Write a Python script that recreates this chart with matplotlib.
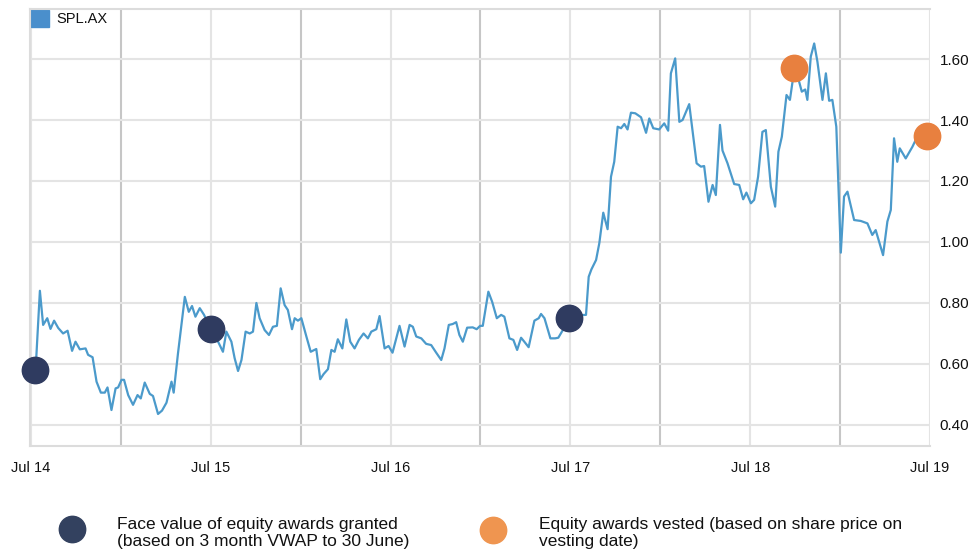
import matplotlib.pyplot as plt
from matplotlib.lines import Line2D
from matplotlib.patches import Rectangle

plt.rcParams['font.family'] = ['Liberation Sans', 'DejaVu Sans']

# years since Jul 2014, SPL.AX close price
years = [0.011, 0.028, 0.050, 0.068, 0.091, 0.109, 0.129, 0.152, 0.179, 0.204,
         0.229, 0.248, 0.272, 0.304, 0.318, 0.343, 0.365, 0.389, 0.411, 0.426,
         0.448, 0.471, 0.485, 0.504, 0.518, 0.541, 0.568, 0.593, 0.611, 0.633,
         0.661, 0.679, 0.707, 0.729, 0.754, 0.782, 0.794, 0.818, 0.856, 0.878,
         0.896, 0.915, 0.939, 0.963, 0.976, 1.000, 1.017, 1.041, 1.068, 1.087,
         1.115, 1.133, 1.152, 1.171, 1.194, 1.217, 1.235, 1.254, 1.272, 1.300,
         1.324, 1.346, 1.368, 1.389, 1.411, 1.429, 1.452, 1.467, 1.485, 1.504,
         1.532, 1.556, 1.587, 1.609, 1.628, 1.652, 1.671, 1.689, 1.707, 1.732,
         1.754, 1.776, 1.800, 1.824, 1.850, 1.874, 1.893, 1.921, 1.939, 1.967,
         1.989, 2.011, 2.050, 2.078, 2.106, 2.124, 2.143, 2.171, 2.198, 2.226,
         2.254, 2.282, 2.300, 2.324, 2.346, 2.365, 2.383, 2.402, 2.426, 2.457,
         2.479, 2.498, 2.513, 2.544, 2.565, 2.591, 2.615, 2.633, 2.661, 2.683,
         2.704, 2.726, 2.744, 2.768, 2.800, 2.824, 2.837, 2.856, 2.889, 2.915,
         2.933, 2.967, 2.994, 3.022, 3.050, 3.087, 3.102, 3.117, 3.143, 3.161,
         3.183, 3.207, 3.226, 3.244, 3.263, 3.282, 3.300, 3.318, 3.337, 3.361,
         3.393, 3.421, 3.439, 3.461, 3.494, 3.522, 3.544, 3.559, 3.583, 3.606,
         3.624, 3.661, 3.702, 3.726, 3.744, 3.768, 3.791, 3.809, 3.832, 3.846,
         3.874, 3.911, 3.939, 3.961, 3.979, 4.004, 4.022, 4.044, 4.068, 4.087,
         4.115, 4.139, 4.157, 4.176, 4.202, 4.221, 4.244, 4.272, 4.287, 4.306,
         4.318, 4.337, 4.356, 4.374, 4.402, 4.421, 4.439, 4.457, 4.479, 4.504,
         4.522, 4.541, 4.578, 4.615, 4.652, 4.679, 4.698, 4.739, 4.763, 4.782,
         4.800, 4.818, 4.832, 4.865, 4.902, 4.929, 4.967, 4.983]
price = [0.58, 0.60, 0.84, 0.728, 0.75, 0.715, 0.742, 0.718, 0.70, 0.709,
         0.643, 0.673, 0.648, 0.651, 0.63, 0.622, 0.542, 0.506, 0.506, 0.523,
         0.449, 0.52, 0.523, 0.548, 0.548, 0.498, 0.466, 0.498, 0.487, 0.539,
         0.502, 0.495, 0.436, 0.447, 0.473, 0.542, 0.506, 0.635, 0.82, 0.771,
         0.79, 0.755, 0.783, 0.761, 0.744, 0.71, 0.69, 0.673, 0.64, 0.706,
         0.673, 0.619, 0.577, 0.613, 0.706, 0.70, 0.706, 0.80, 0.75, 0.711,
         0.695, 0.722, 0.725, 0.848, 0.793, 0.777, 0.714, 0.75, 0.742, 0.75,
         0.69, 0.64, 0.649, 0.55, 0.567, 0.583, 0.646, 0.64, 0.681, 0.651,
         0.746, 0.673, 0.651, 0.679, 0.70, 0.684, 0.706, 0.714, 0.757, 0.651,
         0.659, 0.637, 0.725, 0.657, 0.728, 0.722, 0.69, 0.684, 0.666, 0.662,
         0.637, 0.613, 0.651, 0.728, 0.731, 0.737, 0.695, 0.673, 0.719, 0.72,
         0.714, 0.725, 0.725, 0.837, 0.804, 0.75, 0.761, 0.755, 0.684, 0.679,
         0.646, 0.686, 0.673, 0.655, 0.742, 0.75, 0.764, 0.75, 0.684, 0.684,
         0.686, 0.72, 0.74, 0.75, 0.76, 0.761, 0.886, 0.91, 0.941, 0.996,
         1.096, 1.042, 1.214, 1.263, 1.378, 1.373, 1.387, 1.369, 1.424, 1.422,
         1.409, 1.358, 1.405, 1.373, 1.369, 1.389, 1.365, 1.553, 1.602, 1.394,
         1.40, 1.452, 1.258, 1.247, 1.249, 1.132, 1.187, 1.154, 1.384, 1.30,
         1.258, 1.19, 1.187, 1.14, 1.162, 1.127, 1.138, 1.214, 1.361, 1.367,
         1.181, 1.116, 1.296, 1.345, 1.482, 1.466, 1.56, 1.526, 1.493, 1.50,
         1.466, 1.608, 1.651, 1.591, 1.466, 1.553, 1.463, 1.466, 1.378, 0.965,
         1.149, 1.165, 1.072, 1.069, 1.061, 1.023, 1.039, 0.957, 1.067, 1.105,
         1.34, 1.263, 1.307, 1.274, 1.312, 1.345, 1.35, 1.357]

granted_t = [0.022, 0.999, 2.994]
granted_v = [0.58, 0.715, 0.751]
vested_t = [4.244, 4.983]
vested_v = [1.57, 1.348]

xtick_labels = ['Jul 14', 'Jul 15', 'Jul 16', 'Jul 17', 'Jul 18', 'Jul 19']
yticks = [0.4, 0.6, 0.8, 1.0, 1.2, 1.4, 1.6]

line_col = '#4b9acb'
navy = '#2f3b60'
orange = '#e8803f'

fig = plt.figure(figsize=(9.72, 5.53), dpi=100)
ax = fig.add_axes([30 / 972, 1 - 446 / 553, 900 / 972, 437 / 553])

# grid: light at July, darker at January
for i in range(6):
    ax.axvline(i, color='#e4e4e4', lw=1.5, zorder=0)
for i in range(5):
    ax.axvline(i + 0.5, color='#c6c6c6', lw=1.5, zorder=0)
for v in yticks:
    ax.axhline(v, color='#e4e4e4', lw=1.5, zorder=0)

ax.plot(years, price, color=line_col, lw=1.6, zorder=2)
ax.plot(granted_t, granted_v, 'o', ms=19, color=navy, zorder=3, clip_on=False)
ax.plot(vested_t, vested_v, 'o', ms=19, color=orange, zorder=3, clip_on=False)

ax.set_xlim(-0.005, 4.995)
ax.set_ylim(0.331, 1.764)
ax.set_xticks(range(6))
ax.set_xticklabels(xtick_labels, fontsize=10.5, color='#111111')
ax.set_yticks(yticks)
ax.set_yticklabels(['%.2f' % v for v in yticks], fontsize=11, color='#111111')
ax.yaxis.tick_right()
ax.tick_params(axis='both', length=0)
ax.tick_params(axis='x', pad=11)
ax.tick_params(axis='y', pad=7)

ax.spines['right'].set_visible(False)
for s in ['top', 'bottom', 'left']:
    ax.spines[s].set_color('#dcdcdc')
    ax.spines[s].set_linewidth(1.5)

# series key top-left
ax.add_patch(Rectangle((31 / 972, 1 - 27 / 553), 18 / 972, 17 / 553,
                       transform=fig.transFigure, color='#4a8fcc', clip_on=False))
fig.text(56 / 972, 1 - 19 / 553, 'SPL.AX', fontsize=10.5, va='center', color='#111111')

# bottom legend
fig.add_artist(Line2D([72 / 972], [1 - 529 / 553], marker='o', ms=19,
                      color='#33415f', transform=fig.transFigure))
fig.add_artist(Line2D([493 / 972], [1 - 530 / 553], marker='o', ms=19,
                      color='#ef9550', transform=fig.transFigure))
fig.text(117 / 972, 1 - 533 / 553,
         'Face value of equity awards granted\n(based on 3 month VWAP to 30 June)',
         fontsize=12.5, va='center', linespacing=1.12, color='#111111')
fig.text(539 / 972, 1 - 533 / 553,
         'Equity awards vested (based on share price on\nvesting date)',
         fontsize=12.5, va='center', linespacing=1.12, color='#111111')

fig.savefig('out.png', dpi=100)
